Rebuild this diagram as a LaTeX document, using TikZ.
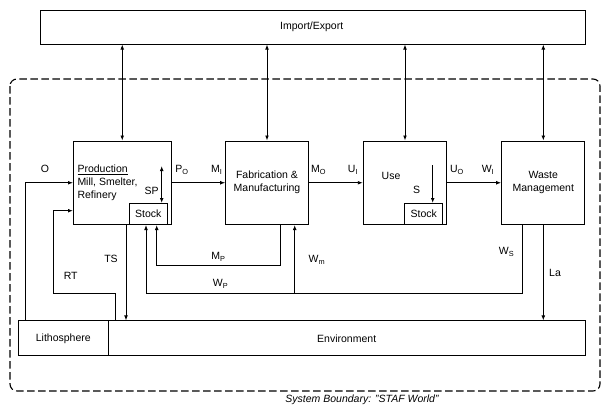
\documentclass[tikz,border=0pt]{standalone}
\usepackage{fontspec}
\setmainfont{Liberation Sans}
\usetikzlibrary{arrows.meta}
\tikzset{
  box/.style={draw, line width=1pt, inner sep=0pt, align=center},
  flow/.style={line width=0.9pt, -{Latex[length=5pt,width=3.8pt]}},
  flowb/.style={line width=0.9pt, {Latex[length=5pt,width=3.8pt]}-{Latex[length=5pt,width=3.8pt]}},
  lab/.style={inner sep=0pt},
}
\begin{document}
\begin{tikzpicture}[x=1pt,y=-1pt,font=\fontsize{10.5}{13}\selectfont]
\useasboundingbox (0,0) rectangle (602,407);
% boundary
\draw[line width=1.1pt, dash pattern=on 7.5pt off 3.5pt, rounded corners=7pt] (10,79) rectangle (600,391);
\node[lab, font=\fontsize{10.5}{13}\selectfont\itshape] (cap) at (362,400) {System Boundary: "STAF World"};
% boxes
\node[box, minimum width=545pt, minimum height=34pt] (ie) at (312.5,27) {};
\node[lab] (ietxt) at (311.7,27) {Import/Export};
\node[box, minimum width=97.5pt, minimum height=83.5pt] (prod) at (122.25,182.75) {};
\node[lab, anchor=west, align=left] (prodtxt) at (77.3,183) {\underline{Production}\\Mill, Smelter,\\Refinery};
\node[box, minimum width=38pt, minimum height=21pt] (stockP) at (148.3,214) {Stock};
\node[box, minimum width=82.6pt, minimum height=83.5pt] (fab) at (267,182.75) {Fabrication \&\\Manufacturing};
\node[box, minimum width=83.4pt, minimum height=83.5pt] (use) at (405,182.75) {};
\node[lab] (usetxt) at (391,176) {Use};
\node[box, minimum width=37.7pt, minimum height=21pt] (stockU) at (423.8,214) {Stock};
\node[box, minimum width=83.3pt, minimum height=83.5pt] (waste) at (543.3,182.75) {Waste\\Management};
\node[box, minimum width=90pt, minimum height=34.7pt] (lith) at (63.3,338.3) {Lithosphere};
\node[box, minimum width=476.7pt, minimum height=34.7pt] (env) at (346.65,338.3) {};
\node[lab] (envtxt) at (346.7,338.3) {Environment};
% import/export links
\draw[flowb] (ie.south -| prod.north) -- (prod.north);
\draw[flowb] (ie.south -| fab.north) -- (fab.north);
\draw[flowb] (ie.south -| use.north) -- (use.north);
\draw[flowb] (ie.south -| waste.north) -- (waste.north);
% main chain
\draw[flow] (prod.east) -- (fab.west);
\draw[flow] (fab.east) -- (use.west);
\draw[flow] (use.east) -- (waste.west);
% stocks
\coordinate (spTop) at (161.7,166);
\draw[flowb] (spTop) -- (spTop |- stockP.north);
\coordinate (sTop) at (432.7,165);
\draw[flow] (sTop) -- (sTop |- stockU.north);
% O and RT
\coordinate (oX) at (25.7,0);
\draw[flow] (oX |- lith.north) |- (prod.west);
\coordinate (rtA) at (115.7,293.7);
\coordinate (rtB) at (53.3,210.7);
\draw[flow] (rtA |- env.north) -- (rtA) -| (rtB) -- (rtB -| prod.west);
% TS
\coordinate (tsX) at (126,0);
\draw[flow] (tsX |- prod.south) -- (tsX |- env.north);
% M_P
\coordinate (mpA) at (280.7,265.7);
\coordinate (mpB) at (156.7,265.7);
\draw[flow] (mpA |- fab.south) -- (mpA) -- (mpB) -- (mpB |- stockP.south);
% W_P and W_m
\coordinate (wpA) at (522.3,293.3);
\coordinate (wpB) at (146,293.3);
\draw[flow] (wpA |- waste.south) -- (wpA) -- (wpB) -- (wpB |- stockP.south);
\coordinate (wmA) at (294.7,293.3);
\draw[flow] (wmA) -- (wmA |- fab.south);
% La
\draw[flow] (waste.south) -- (waste.south |- env.north);
% labels
\node[lab] (lO) at (45,169.3) {O};
\node[lab] (lRT) at (70.7,276) {RT};
\node[lab] (lTS) at (111,259) {TS};
\node[lab] (lSP) at (151.7,191) {SP};
\node[lab] (lS) at (416.7,190) {S};
\node[lab] (lPO) at (182,170) {P\textsubscript{O}};
\node[lab] (lMI) at (216.7,170) {M\textsubscript{I}};
\node[lab] (lMO) at (318.5,170) {M\textsubscript{O}};
\node[lab] (lUI) at (353,170) {U\textsubscript{I}};
\node[lab] (lUO) at (457,170) {U\textsubscript{O}};
\node[lab] (lWI) at (488,170) {W\textsubscript{I}};
\node[lab] (lMP) at (218.5,257) {M\textsubscript{P}};
\node[lab] (lWP) at (220.5,284) {W\textsubscript{P}};
\node[lab] (lWm) at (317,260) {W\textsubscript{m}};
\node[lab] (lWS) at (506.5,252) {W\textsubscript{S}};
\node[lab] (lLa) at (555,273.3) {La};
\end{tikzpicture}
\end{document}
